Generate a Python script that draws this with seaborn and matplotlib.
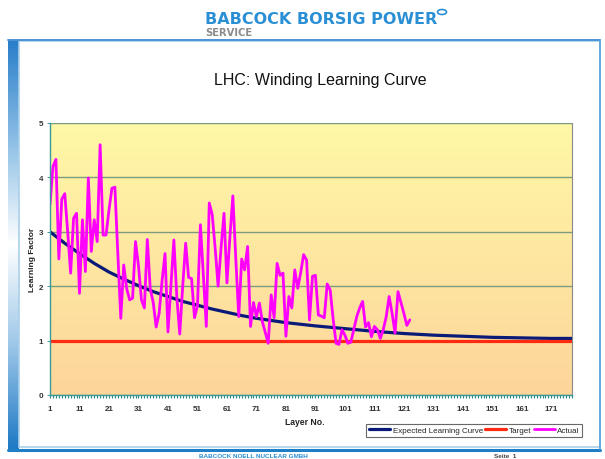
import numpy as np
import pandas as pd
import matplotlib.pyplot as plt
import matplotlib.patches as mpatches
from matplotlib.colors import LinearSegmentedColormap
from matplotlib.ticker import FixedLocator
import seaborn as sns

sns.set_style('white')
plt.rcParams['font.family'] = ['Liberation Sans', 'DejaVu Sans']

# 데이터
actual = [3.5, 4.2, 4.33, 2.5, 3.6, 3.7, 3.0, 2.24, 3.25, 3.34,
          1.87, 3.22, 2.27, 3.99, 2.64, 3.22, 2.82, 4.6, 2.94, 2.94,
          3.4, 3.8, 3.82, 2.6, 1.41, 2.39, 1.96, 1.75, 1.78, 2.82,
          2.38, 1.75, 1.6, 2.86, 1.95, 1.7, 1.25, 1.5, 2.1, 2.6,
          1.16, 2.0, 2.85, 1.8, 1.12, 2.0, 2.79, 2.16, 2.14, 1.42,
          1.64, 3.13, 2.2, 1.26, 3.53, 3.32, 2.7, 2.0, 2.7, 3.34,
          2.06, 2.9, 3.66, 2.5, 1.44, 2.5, 2.3, 2.73, 1.26, 1.7,
          1.44, 1.69, 1.35, 1.15, 0.95, 1.84, 1.42, 2.42, 2.2, 2.24,
          1.08, 1.81, 1.6, 2.3, 1.96, 2.25, 2.58, 2.48, 1.38, 2.18,
          2.2, 1.47, 1.45, 1.42, 2.04, 1.93, 1.4, 0.95, 0.93, 1.2,
          1.1, 0.95, 0.97, 1.2, 1.44, 1.6, 1.72, 1.25, 1.33, 1.07,
          1.26, 1.2, 1.04, 1.2, 1.44, 1.81, 1.5, 1.14, 1.9, 1.7,
          1.5, 1.28, 1.38]
actual_layers = list(range(1, len(actual) + 1))

expected_layers = [1, 6, 11, 16, 21, 26, 31, 36, 41, 46, 51, 56, 61, 66, 71,
                   81, 91, 101, 111, 121, 131, 141, 151, 161, 171, 178]
expected = [3.0, 2.79, 2.6, 2.42, 2.26, 2.13, 2.01, 1.9, 1.81, 1.72, 1.65,
            1.58, 1.52, 1.46, 1.41, 1.33, 1.27, 1.22, 1.17, 1.13, 1.1,
            1.08, 1.06, 1.05, 1.04, 1.04]

target_layers = [1, 178]
target = [1, 1]

x_ticks = list(range(1, 172, 10))
y_ticks = [0, 1, 2, 3, 4, 5]

fig = plt.figure(figsize=(6.05, 4.6), dpi=100)

# 배경 프레임 (픽셀 좌표)
bg = fig.add_axes([0, 0, 1, 1])
bg.axis('off')
bg.add_patch(mpatches.Rectangle((19, 42), 581, 406, facecolor='white',
                                edgecolor='#a9cfea', lw=1.2))
bar_cmap = LinearSegmentedColormap.from_list(
    'bar', ['#2a7fca', '#8fc0e6', '#ffffff', '#9cc6e8', '#1f7ac4'])
grad = np.linspace(0, 1, 200).reshape(-1, 1)
bg.imshow(grad, extent=(8, 19, 450, 41), aspect='auto', cmap=bar_cmap)
bg.plot([8, 600], [41, 41], color='#4a93d4', lw=1.4)
bg.plot([8, 600], [450.5, 450.5], color='#1f7fc6', lw=2.2)
bg.plot([599.5, 599.5], [41, 450], color='#5aa2da', lw=1.2)
bg.set_xlim(0, 605)
bg.set_ylim(460, 0)

bg.text(205, 19, 'BABCOCK BORSIG POWER', fontsize=11.5, fontweight='bold',
        family='DejaVu Sans', color='#2a8fd4', va='center', ha='left')
bg.add_patch(mpatches.Ellipse((442, 13), 9, 5, facecolor='white',
                              edgecolor='#2a8fd4', lw=1.2))
bg.text(205, 33.5, 'SERVICE', fontsize=7.2, fontweight='bold',
        family='DejaVu Sans', color='#8c8c8c', va='center', ha='left')
bg.text(253, 457, 'BABCOCK NOELL NUCLEAR GMBH', fontsize=4.6,
        fontweight='bold', color='#2a8fd4', va='center', ha='center')
bg.text(505, 457, 'Seite  1', fontsize=4.6, fontweight='bold',
        color='#444444', va='center', ha='center')
bg.text(320, 80, 'LHC: Winding Learning Curve', fontsize=11.5,
        color='#111111', va='center', ha='center')

# 차트 영역
ax = fig.add_axes([50 / 605, 64 / 460, 522 / 605, 272 / 460])
plot_cmap = LinearSegmentedColormap.from_list('plot', ['#fff8a6', '#fdd59b'])
ax.imshow(grad, extent=(1, 178, 0, 5), aspect='auto', cmap=plot_cmap, zorder=0)

sns.lineplot(x=expected_layers, y=expected, ax=ax, color='#0a1a78', lw=2.3,
             label='Expected Learning Curve')
sns.lineplot(x=target_layers, y=target, ax=ax, color='#ff2a12', lw=2.3,
             label='Target')
sns.lineplot(x=actual_layers, y=actual, ax=ax, color='#ff00ff', lw=2.0,
             label='Actual')

ax.set_xlim(1, 178)
ax.set_ylim(0, 5)
ax.set_xticks(x_ticks)
ax.xaxis.set_minor_locator(FixedLocator(range(1, 179)))
ax.set_yticks(y_ticks)
ax.set_axisbelow(True)
ax.grid(axis='y', color='#7b9c7e', lw=1)
ax.grid(axis='x', visible=False)

for side in ['left', 'bottom']:
    ax.spines[side].set_color('#3a9a9a')
    ax.spines[side].set_linewidth(1.0)
ax.spines['top'].set_visible(False)
ax.spines['right'].set_color('#8a8a8a')
ax.spines['right'].set_linewidth(0.8)

ax.tick_params(axis='x', which='both', direction='out', length=2.5,
               width=0.8, color='#2f8585', labelsize=5.8, pad=5,
               labelcolor='#333333', bottom=True)
ax.tick_params(axis='y', which='major', direction='out', length=2.5,
               width=0.7, color='#3a9a9a', labelsize=5.8, pad=2.5,
               labelcolor='#333333', left=True)
plt.setp(ax.get_xticklabels(), fontweight='bold')
plt.setp(ax.get_yticklabels(), fontweight='bold')

ax.set_xlabel('Layer No.', fontsize=6.2, fontweight='bold', color='#222222')
ax.set_ylabel('Learning Factor', fontsize=6.0, fontweight='bold',
              color='#222222')
ax.xaxis.set_label_coords((305 - 50) / 522, -0.081)
ax.yaxis.set_label_coords((36 - 50) / 522, 0.5)

leg = ax.legend(loc='lower right', bbox_to_anchor=(582 / 605, 22 / 460),
                bbox_transform=fig.transFigure, ncol=3, fontsize=5.8,
                frameon=True, fancybox=False, borderpad=0.35,
                handlelength=2.6, handletextpad=0.3, columnspacing=0.3,
                borderaxespad=0)
leg.get_frame().set_edgecolor('#444444')
leg.get_frame().set_linewidth(0.8)

plt.savefig('out.png', dpi=100)
